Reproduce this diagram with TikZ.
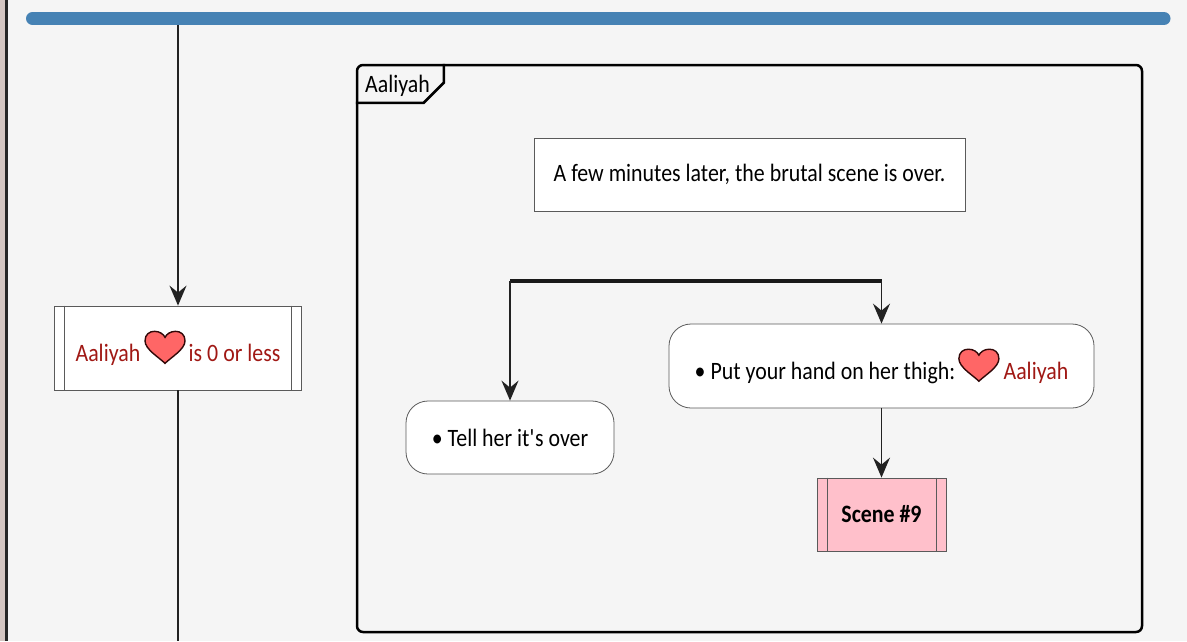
\documentclass[tikz,border=0pt]{standalone}
\usepackage{fontspec}
\setmainfont[FakeStretch=0.875]{Carlito}
\usepackage{tikz}
\usetikzlibrary{arrows.meta}
\definecolor{bggray}{RGB}{245,245,245}
\definecolor{barblue}{RGB}{70,130,180}
\definecolor{lovered}{RGB}{160,24,20}
\definecolor{heartfill}{RGB}{255,102,102}
\definecolor{heartline}{RGB}{50,8,8}
\definecolor{scenepink}{RGB}{255,192,203}
\definecolor{linedark}{RGB}{34,34,34}
\definecolor{boxline}{RGB}{90,90,90}
\definecolor{photostrip}{RGB}{212,198,194}
\tikzstyle{lbl}=[font=\fontsize{25}{29}\selectfont, inner sep=0pt]
\tikzstyle{notebox}=[lbl, draw=boxline, fill=white, line width=0.8pt]
\tikzstyle{actbox}=[notebox, rounded corners=22pt]
\tikzstyle{subbox}=[notebox, minimum height=73pt]
\tikzstyle{flow}=[draw=linedark, line width=1.7pt, -{Stealth[length=20pt, width=17pt, inset=7pt]}]
\tikzstyle{lane}=[draw=linedark, line width=1.7pt]
\tikzstyle{forkbar}=[draw=black!90, line width=3.5pt]
\tikzstyle{grpframe}=[draw=black, line width=2.5pt]
\newcommand{\heartmark}{\tikz[baseline=2pt, x=1pt, y=1pt]
  \draw[heartline, fill=heartfill, line width=1.4pt, sharp corners]
  (0,0) .. controls (-6,6) and (-20,14) .. (-20,22.5)
  .. controls (-20,29) and (-15.5,32) .. (-10.5,32)
  .. controls (-5,32) and (-1.5,29) .. (0,26)
  .. controls (1.5,29) and (5,32) .. (10.5,32)
  .. controls (15.5,32) and (20,29) .. (20,22.5)
  .. controls (20,14) and (6,6) .. (0,0) -- cycle;}

\begin{document}
\begin{tikzpicture}[x=1pt, y=-1pt]
        \fill[bggray] (0,0) rectangle (1187,641);
        \useasboundingbox (0,0) rectangle (1187,641);
        \fill[photostrip] (0,0) rectangle (5,641);
        \fill[black!85] (5,0) rectangle (8,641);
        \draw[barblue, line width=13pt, line cap=round] (32.5,18.5) -- (1164,18.5);
        \coordinate (lanetop) at (178,25);
        \coordinate (laneend) at (178,641);
        \node[subbox, minimum width=247pt, minimum height=84pt, text=lovered] (cond) at (178,348) {Aaliyah\hspace{4pt}\heartmark\hspace{3pt}is 0 or less};
        \draw[flow] (lanetop) -- (cond);
        \draw[lane] (cond) -- (laneend);
        \node[grpframe, rounded corners=6pt, minimum width=785pt, minimum height=567pt] (grp) at (749.5,348.5) {};
        \draw[grpframe] (grp.north west) ++(0,39) -- ++(68,0) -- ++(20,-20) -- ++(0,-19);
        \node[lbl, anchor=base west] (grplabel) at (365,92) {Aaliyah};
        \node[notebox, minimum width=431pt, minimum height=73pt] (note) at (749.5,174.5) {A few minutes later, the brutal scene is over.};
        \coordinate (forkL) at (510,281);
        \coordinate (forkR) at (881.5,281);
        \draw[forkbar] (forkL) -- (forkR);
        \node[actbox, minimum width=208pt, minimum height=73pt] (tell) at (510,437.5) {\textbullet\hspace{5pt}Tell her it\textquotesingle s over};
        \node[actbox, minimum width=425pt, minimum height=84pt] (put) at (881.5,366) {\textbullet\hspace{5pt}Put your hand on her thigh:\hspace{3pt}\heartmark\hspace{4pt}\textcolor{lovered}{Aaliyah}};
        \node[subbox, minimum width=129pt, fill=scenepink, font=\fontsize{25}{29}\selectfont\bfseries] (scene) at (881.5,514.5) {Scene \#9};
        \foreach \n in {cond, scene} {
            \draw[boxline, line width=0.8pt] ([xshift=10.5pt]\n.north west) -- ([xshift=10.5pt]\n.south west);
            \draw[boxline, line width=0.8pt] ([xshift=-10.5pt]\n.north east) -- ([xshift=-10.5pt]\n.south east);
        }
        \draw[flow] (forkL) -- (tell);
        \draw[flow] (forkR) -- (put);
        \draw[flow] (put) -- (scene);
    \end{tikzpicture}
\end{document}
